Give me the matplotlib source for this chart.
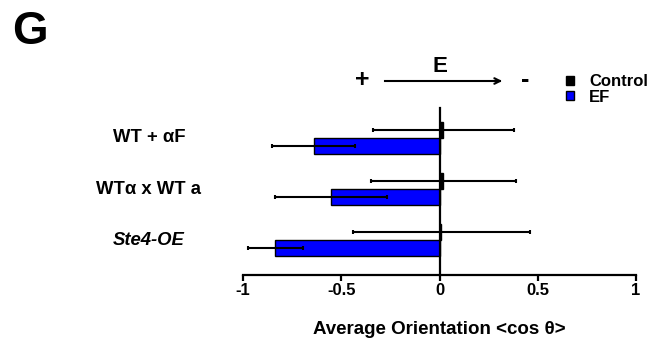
import numpy as np
import matplotlib.pyplot as plt
from matplotlib.transforms import blended_transform_factory

plt.rcParams['font.family'] = ['Liberation Sans', 'DejaVu Sans']
plt.rcParams['font.weight'] = 'bold'

groups = ['WT + αF', 'WTα x WT a', 'Ste4-OE']
control_mean = [0.02, 0.02, 0.01]
control_err = [0.36, 0.37, 0.45]
ef_mean = [-0.64, -0.55, -0.835]
ef_err = [0.21, 0.285, 0.14]
xticks = [-1, -0.5, 0, 0.5, 1]
xticklabels = ['-1', '-0.5', '0', '0.5', '1']

fig = plt.figure(figsize=(6.56, 3.38), dpi=100)
ax = fig.add_axes([243 / 656, 1 - 275 / 338, 393 / 656, 167 / 338])

ypos = np.array([2, 1, 0])
h = 0.314
ax.barh(ypos + h / 2, control_mean, height=h, color='black', edgecolor='black',
        linewidth=1, label='Control', zorder=2)
ax.barh(ypos - h / 2, ef_mean, height=h, color='#0000ff', edgecolor='black',
        linewidth=1, label='EF', zorder=2)
ax.errorbar(control_mean, ypos + h / 2, xerr=control_err, fmt='none', ecolor='black',
            elinewidth=1.5, capsize=1.5, capthick=1.5, zorder=3)
ax.errorbar(ef_mean, ypos - h / 2, xerr=ef_err, fmt='none', ecolor='black',
            elinewidth=1.5, capsize=1.5, capthick=1.5, zorder=3)

ax.set_xlim(-1, 1)
ax.set_ylim(-0.686, 2.588)
ax.set_xticks(xticks)
ax.set_xticklabels(xticklabels, fontsize=12, fontweight='bold')
ax.set_yticks([])
ax.spines['left'].set_position(('data', 0))
ax.spines['right'].set_visible(False)
ax.spines['top'].set_visible(False)
ax.spines['left'].set_linewidth(1.6)
ax.spines['bottom'].set_linewidth(1.6)
ax.tick_params(axis='x', direction='out', length=4, width=1.6, pad=2)
ax.set_xlabel('Average Orientation <cos θ>', fontsize=13.5, fontweight='bold', labelpad=16)

trans = blended_transform_factory(fig.transFigure, ax.transData)
for g, y in zip(groups, ypos):
    style = 'italic' if g == 'Ste4-OE' else 'normal'
    ax.text(149 / 656, y, g, transform=trans, ha='center', va='center',
            fontsize=13.3, fontweight='bold', style=style)

# field direction annotation
fig.text(362 / 656, 1 - 80 / 338, '+', fontsize=18, fontweight='bold', ha='center', va='center')
fig.text(440 / 656, 1 - 66 / 338, 'E', fontsize=16, fontweight='bold', ha='center', va='center')
fig.text(525 / 656, 1 - 80 / 338, '-', fontsize=18, fontweight='bold', ha='center', va='center')
fig.add_artist(plt.Line2D([385 / 656, 500 / 656], [1 - 81 / 338, 1 - 81 / 338], color='black', lw=1.5))
ax.annotate('', xy=(505 / 656, 1 - 81 / 338), xytext=(490 / 656, 1 - 81 / 338),
            xycoords='figure fraction', textcoords='figure fraction',
            arrowprops=dict(arrowstyle='->', lw=1.5, color='black'))

ax.legend(loc='upper left', bbox_to_anchor=(566 / 656, 1 - 74 / 338), bbox_transform=fig.transFigure,
          frameon=False, fontsize=12, handlelength=0.45, handleheight=0.45, handletextpad=0.95,
          labelspacing=0.05, borderpad=0, borderaxespad=0)

fig.text(12 / 656, 1 - 32 / 338, 'G', fontsize=33, fontweight='bold', ha='left', va='center')

fig.savefig('out.png', dpi=100)
